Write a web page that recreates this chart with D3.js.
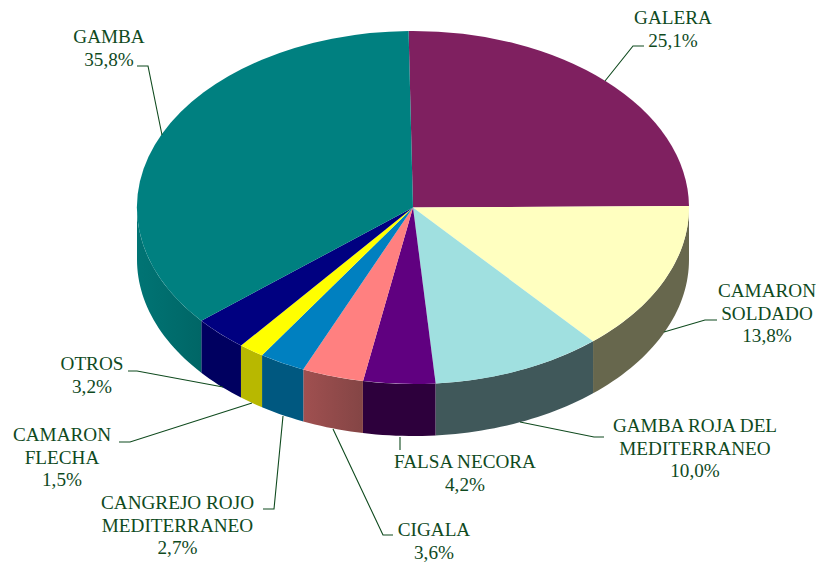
<!DOCTYPE html>
<html><head><meta charset="utf-8">
<script src="https://cdn.jsdelivr.net/npm/d3@7"></script>
<style>html,body{margin:0;background:#fff}svg{display:block}</style></head>
<body><svg width="816" height="562"></svg>
<script>
const categories = ["GALERA","CAMARON SOLDADO","GAMBA ROJA DEL MEDITERRANEO","FALSA NECORA","CIGALA","CANGREJO ROJO MEDITERRANEO","CAMARON FLECHA","OTROS","GAMBA"];
const values = [25.1,13.8,10.0,4.2,3.6,2.7,1.5,3.2,35.8];
const topColors = ["#7f2060","#ffffc0","#a0e0e0","#600080","#ff8080","#0080c0","#ffff00","#000080","#008080"];
const sideColors = ["#4d133a","#67674d","#40585a","#2d003c","#904a4a","#005880","#b8b800","#000060","#006b6b"];
const labelLines = [["GALERA","25,1%"],["CAMARON","SOLDADO","13,8%"],["GAMBA ROJA DEL","MEDITERRANEO","10,0%"],["FALSA NECORA","4,2%"],["CIGALA","3,6%"],["CANGREJO ROJO","MEDITERRANEO","2,7%"],["CAMARON","FLECHA","1,5%"],["OTROS","3,2%"],["GAMBA","35,8%"]];
const labelAnchors = [[673,24],[767,297],[695,432],[465,468],[434,536],[177.5,509],[62,441],[92,370],[109,43]];
const leaders = [
 [[644,46],[633,46],[605,81]],
 [[717,320],[705,320],[664,332]],
 [[604,437],[594,437],[520,422]],
 [[400,437],[400,450]],
 [[393,535],[383,535],[333,429]],
 [[263,509],[274,509],[283,416]],
 [[119,442],[130,442],[252,403]],
 [[128,371],[137,371],[223,387]],
 [[137,66],[148,66],[162,135]]
];
const cx=413, cy=207.5, rx=276, ry=176.5, depth=52;
const svg=d3.select("svg");
const x=d3.scaleLinear().domain([-1,1]).range([cx-rx,cx+rx]);
const y=d3.scaleLinear().domain([-1,1]).range([cy-ry,cy+ry]);
const start=-0.9*Math.PI/180;
const pie=d3.pie().sort(null).startAngle(start).endAngle(start+2*Math.PI);
const arcs=pie(values).map((d,i)=>({...d,i}));
const pt=a=>[x(Math.sin(a)),y(-Math.cos(a))];
const wall=(a0,a1)=>{
  const n=Math.max(2,Math.ceil((a1-a0)*40));
  const angles=d3.range(n+1).map(k=>a0+(a1-a0)*k/n);
  const top=angles.map(pt);
  const bot=angles.slice().reverse().map(a=>{const p=pt(a);return [p[0],p[1]+depth]});
  return d3.line()(top.concat(bot))+"Z";
};
const defs=svg.append("defs");
const g4=defs.append("linearGradient").attr("id","g4");
g4.append("stop").attr("offset",0).attr("stop-color","#a05050");
g4.append("stop").attr("offset",1).attr("stop-color","#844545");
const g8=defs.append("linearGradient").attr("id","g8");
g8.append("stop").attr("offset",0).attr("stop-color","#007474");
g8.append("stop").attr("offset",1).attr("stop-color","#006666");
const frontEnd=Math.PI*1.5;
arcs.forEach(d=>{
  const a0=Math.max(d.startAngle,Math.PI/2), a1=Math.min(d.endAngle,frontEnd);
  if(a1<=a0) return;
  svg.append("path").attr("d",wall(a0,a1))
    .attr("fill",d.i===4?"url(#g4)":d.i===8?"url(#g8)":sideColors[d.i]);
});
const arc=d3.arc().innerRadius(0).outerRadius(1);
svg.append("g").attr("transform",`translate(${cx},${cy}) scale(${rx},${ry})`)
  .selectAll("path").data(arcs).join("path")
  .attr("d",arc).attr("fill",d=>topColors[d.i]);
const lineColor="#0f4a1e";
svg.append("g").selectAll("path").data(leaders).join("path")
  .attr("d",d=>d3.line()(d)).attr("fill","none").attr("stroke",lineColor).attr("stroke-width",1.1);
const t=svg.append("g").attr("font-family","'Liberation Serif',serif").attr("font-size",19.2).attr("fill",lineColor).attr("text-anchor","middle");
labelLines.forEach((ls,i)=>{
  const tx=t.append("text");
  ls.forEach((s,k)=>tx.append("tspan").attr("x",labelAnchors[i][0]).attr("y",labelAnchors[i][1]+k*22.7).text(s));
});
</script></body></html>
